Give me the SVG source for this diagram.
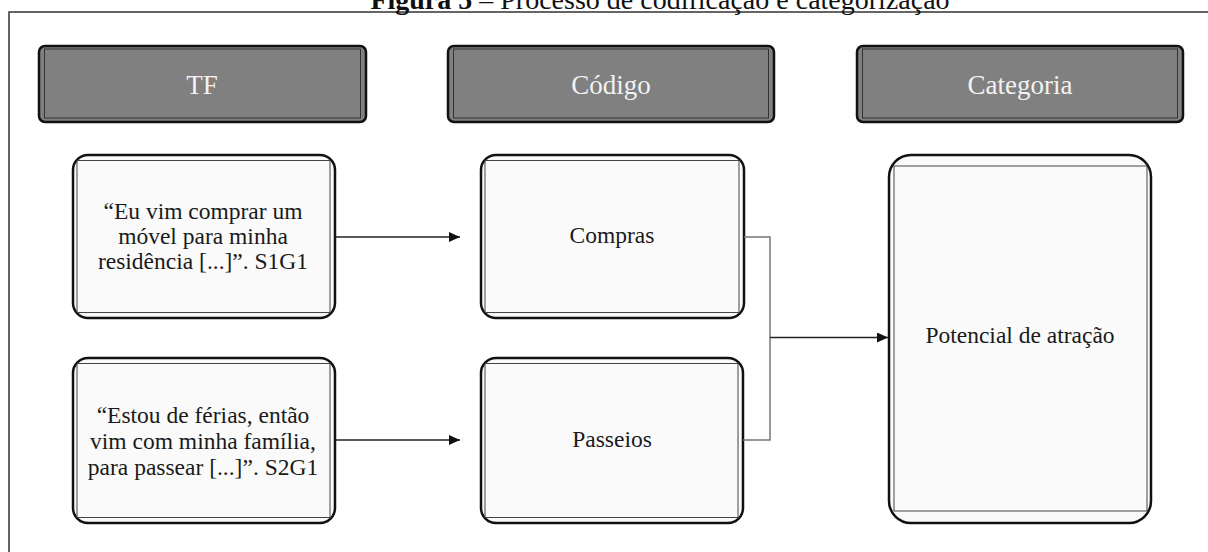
<svg xmlns="http://www.w3.org/2000/svg" width="1208" height="552" viewBox="0 0 1208 552">
<style>
.hdr{fill:#808080;stroke:#111;stroke-width:2.5}
.hin{fill:none;stroke:#333;stroke-width:1}
.box{fill:#fafafa;stroke:#111;stroke-width:2.5}
.bin{fill:none;stroke:#444;stroke-width:1}
.ht{font-family:"Liberation Serif","Times New Roman",serif;font-size:27px;fill:#f2f2f2;text-anchor:middle}
.bt{font-family:"Liberation Serif","Times New Roman",serif;font-size:23.5px;fill:#1a1a1a;text-anchor:middle}
.arr{stroke:#222;stroke-width:1.3;fill:none}
.brk{stroke:#777;stroke-width:1.5;fill:none}
</style>
<defs>
<marker id="ah" markerWidth="12" markerHeight="10" refX="11" refY="5" orient="auto" markerUnits="userSpaceOnUse">
<path d="M0,0 L11,5 L0,10 Z" fill="#111"/>
</marker>
<clipPath id="c1"><rect x="73" y="155" width="262" height="163" rx="15"/></clipPath>
<clipPath id="c2"><rect x="73" y="358" width="262" height="165" rx="15"/></clipPath>
<clipPath id="c3"><rect x="481" y="155" width="263" height="163" rx="15"/></clipPath>
<clipPath id="c4"><rect x="481" y="358" width="262" height="165" rx="15"/></clipPath>
<clipPath id="c5"><rect x="889" y="155" width="262" height="368" rx="22"/></clipPath>
<clipPath id="h1"><rect x="39" y="46" width="327" height="76" rx="6"/></clipPath>
<clipPath id="h2"><rect x="448" y="46" width="326" height="76" rx="6"/></clipPath>
<clipPath id="h3"><rect x="857" y="46" width="326" height="76" rx="6"/></clipPath>
</defs>
<rect width="1208" height="552" fill="#fff"/>
<g id="frame">
<path d="M9,552 V12 H1208" fill="none" stroke="#333" stroke-width="1.5"/>
<text x="660" y="9" font-family="Liberation Serif,'Times New Roman',serif" font-size="28" text-anchor="middle" fill="#111"><tspan font-weight="bold">Figura 5</tspan> – Processo de codificação e categorização</text>
</g>
<g id="hdr-tf">
<rect class="hdr" x="39" y="46" width="327" height="76" rx="6"/>
<rect class="hin" x="44.5" y="49" width="316" height="69" clip-path="url(#h1)"/>
<text class="ht" x="202" y="94">TF</text>
</g>
<g id="hdr-codigo">
<rect class="hdr" x="448" y="46" width="326" height="76" rx="6"/>
<rect class="hin" x="453.5" y="49" width="315" height="69" clip-path="url(#h2)"/>
<text class="ht" x="611" y="94">Código</text>
</g>
<g id="hdr-categoria">
<rect class="hdr" x="857" y="46" width="326" height="76" rx="6"/>
<rect class="hin" x="862.5" y="49" width="315" height="69" clip-path="url(#h3)"/>
<text class="ht" x="1020" y="94">Categoria</text>
</g>
<g id="tf1">
<rect class="box" x="73" y="155" width="262" height="163" rx="15"/>
<rect class="bin" x="77" y="160.5" width="253" height="152" clip-path="url(#c1)"/>
<text class="bt" x="203" y="219">“Eu vim comprar um</text>
<text class="bt" x="203" y="244">móvel para minha</text>
<text class="bt" x="203" y="269">residência [...]”. S1G1</text>
</g>
<g id="tf2">
<rect class="box" x="73" y="358" width="262" height="165" rx="15"/>
<rect class="bin" x="77" y="363.5" width="253" height="154" clip-path="url(#c2)"/>
<text class="bt" x="203" y="423">“Estou de férias, então</text>
<text class="bt" x="203" y="449">vim com minha família,</text>
<text class="bt" x="203" y="475">para passear [...]”. S2G1</text>
</g>
<g id="compras">
<rect class="box" x="481" y="155" width="263" height="163" rx="15"/>
<rect class="bin" x="485" y="160.5" width="254" height="152" clip-path="url(#c3)"/>
<text class="bt" x="612" y="243">Compras</text>
</g>
<g id="passeios">
<rect class="box" x="481" y="358" width="262" height="165" rx="15"/>
<rect class="bin" x="485" y="363.5" width="253" height="154" clip-path="url(#c4)"/>
<text class="bt" x="612" y="447">Passeios</text>
</g>
<g id="potencial">
<rect class="box" x="889" y="155" width="262" height="368" rx="22"/>
<rect class="bin" x="894" y="166" width="253" height="345" clip-path="url(#c5)"/>
<text class="bt" x="1020" y="343">Potencial de atração</text>
</g>
<g id="connectors">
<line class="arr" x1="335" y1="237" x2="460" y2="237" marker-end="url(#ah)"/>
<line class="arr" x1="335" y1="440" x2="460" y2="440" marker-end="url(#ah)"/>
<path class="brk" d="M744,237 H770 V440 H743"/>
<line class="arr" x1="770" y1="337.5" x2="888" y2="337.5" marker-end="url(#ah)"/>
</g>
</svg>
